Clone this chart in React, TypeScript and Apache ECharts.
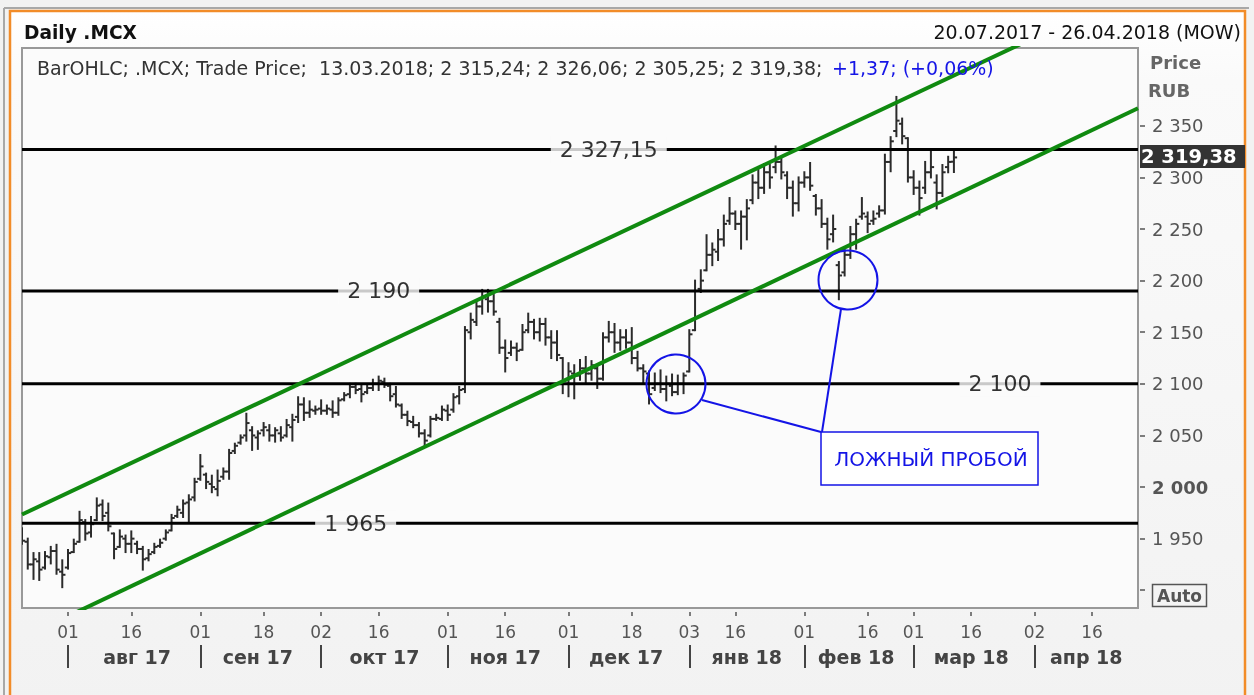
import React, { useEffect, useRef } from "react";
import * as echarts from "echarts";

// Trading days (MOEX) shown on the category axis, 20.07.2017 - 26.04.2018
const monthDays: [string, number[]][] = [
  ["2017-07", [20, 21, 24, 25, 26, 27, 28, 31]],
  ["2017-08", [1, 2, 3, 4, 7, 8, 9, 10, 11, 14, 15, 16, 17, 18, 21, 22, 23, 24, 25, 28, 29, 30, 31]],
  ["2017-09", [1, 4, 5, 6, 7, 8, 11, 12, 13, 14, 15, 18, 19, 20, 21, 22, 25, 26, 27, 28, 29]],
  ["2017-10", [2, 3, 4, 5, 6, 9, 10, 11, 12, 13, 16, 17, 18, 19, 20, 23, 24, 25, 26, 27, 30, 31]],
  ["2017-11", [1, 2, 3, 7, 8, 9, 10, 13, 14, 15, 16, 17, 20, 21, 22, 23, 24, 27, 28, 29, 30]],
  ["2017-12", [1, 4, 5, 6, 7, 8, 11, 12, 13, 14, 15, 18, 19, 20, 21, 22, 25, 26, 27, 28, 29]],
  ["2018-01", [3, 4, 5, 9, 10, 11, 12, 15, 16, 17, 18, 19, 22, 23, 24, 25, 26, 29, 30, 31]],
  ["2018-02", [1, 2, 5, 6, 7, 8, 9, 12, 13, 14, 15, 16, 19, 20, 21, 22, 26, 27, 28]],
  ["2018-03", [1, 2, 5, 6, 7, 9, 12, 13, 14, 15, 16, 19, 20, 21, 22, 23, 26, 27, 28, 29, 30]],
  ["2018-04", [2, 3, 4, 5, 6, 9, 10, 11, 12, 13, 16, 17, 18, 19, 20, 23, 24, 25, 26]],
];
const categories: string[] = monthDays.flatMap(([ym, days]) =>
  days.map((d) => `${ym}-${String(d).padStart(2, "0")}`)
);

const dayTickDates = [
  "2017-08-01", "2017-08-16", "2017-09-01", "2017-09-18", "2017-10-02", "2017-10-16",
  "2017-11-01", "2017-11-16", "2017-12-01", "2017-12-18", "2018-01-03", "2018-01-16",
  "2018-02-01", "2018-02-16", "2018-03-01", "2018-03-16", "2018-04-02", "2018-04-16",
];
const monthStartDates = [
  "2017-08-01", "2017-09-01", "2017-10-02", "2017-11-01", "2017-12-01",
  "2018-01-03", "2018-02-01", "2018-03-01", "2018-04-02",
];
const monthLabelDates = [
  "2017-08-17", "2017-09-15", "2017-10-17", "2017-11-16", "2017-12-15",
  "2018-01-18", "2018-02-14", "2018-03-16", "2018-04-13",
];
const monthLabelTexts = [
  "авг 17", "сен 17", "окт 17", "ноя 17", "дек 17", "янв 18", "фев 18", "мар 18", "апр 18",
];

// OHLC (first bar 20.07.2017 ... last bar 13.03.2018)
const opens = [
  1955, 1947, 1925, 1928, 1922, 1932, 1938, 1918, 1922, 1937,
  1947, 1966, 1956, 1968, 1983, 1975, 1955, 1942, 1950, 1945,
  1945, 1940, 1931, 1937, 1943, 1950, 1958, 1972, 1975, 1985,
  1990, 2008, 2012, 2003, 1998, 2010, 2015, 2035, 2043, 2050,
  2055, 2048, 2055, 2055, 2050, 2052, 2050, 2058, 2068, 2080,
  2072, 2074, 2076, 2074, 2075, 2072, 2085, 2090, 2097, 2095,
  2092, 2096, 2100, 2102, 2098, 2090, 2079, 2070, 2063, 2060,
  2052, 2050, 2066, 2066, 2074, 2075, 2088, 2095, 2150, 2160,
  2175, 2182, 2180, 2160, 2135, 2130, 2135, 2133, 2152, 2160,
  2150, 2158, 2145, 2140, 2125, 2100, 2110, 2108, 2115, 2110,
  2115, 2105, 2145, 2150, 2140, 2145, 2140, 2125, 2115, 2110,
  2096, 2100, 2095, 2098, 2092, 2100, 2112, 2152, 2192, 2210,
  2225, 2228, 2240, 2258, 2265, 2255, 2262, 2278, 2295, 2290,
  2305, 2310, 2315, 2302, 2290, 2275, 2295, 2300, 2282, 2270,
  2255, 2245, 2215, 2208, 2225, 2245, 2262, 2262, 2258, 2265,
  2268, 2315, 2345, 2352, 2338, 2300, 2290, 2290, 2305, 2295,
  2285, 2310, 2315.24,
];
const highs = [
  1960, 1950, 1936, 1936, 1937, 1942, 1944, 1929, 1939, 1949,
  1976, 1968, 1971, 1989, 1987, 1984, 1955, 1958, 1953, 1957,
  1947, 1942, 1939, 1945, 1949, 1958, 1973, 1981, 1987, 1992,
  2008, 2031, 2013, 2011, 2016, 2018, 2036, 2042, 2050, 2071,
  2058, 2054, 2062, 2060, 2057, 2058, 2065, 2070, 2087, 2086,
  2083, 2078, 2084, 2079, 2083, 2086, 2091, 2100, 2100, 2099,
  2099, 2104, 2107, 2105, 2100, 2097, 2080, 2073, 2068, 2062,
  2055, 2068, 2070, 2078, 2079, 2090, 2097, 2155, 2168, 2180,
  2191, 2191, 2186, 2163, 2142, 2141, 2139, 2157, 2168, 2162,
  2163, 2163, 2151, 2151, 2125, 2120, 2118, 2123, 2126, 2122,
  2117, 2149, 2160, 2158, 2152, 2152, 2154, 2131, 2118, 2112,
  2110, 2113, 2107, 2109, 2108, 2110, 2152, 2200, 2210, 2244,
  2236, 2249, 2263, 2280, 2267, 2267, 2278, 2302, 2308, 2313,
  2312, 2330, 2318, 2305, 2296, 2300, 2305, 2314, 2283, 2278,
  2260, 2263, 2218, 2231, 2252, 2259, 2280, 2266, 2267, 2272,
  2322, 2339, 2378, 2357, 2338, 2306, 2296, 2315, 2325, 2302,
  2312, 2320, 2326.06,
];
const lows = [
  1945, 1921, 1911, 1910, 1921, 1926, 1916, 1903, 1921, 1937,
  1947, 1949, 1952, 1968, 1968, 1958, 1931, 1942, 1937, 1937,
  1936, 1920, 1929, 1936, 1942, 1949, 1958, 1971, 1971, 1966,
  1987, 2007, 1999, 1995, 1992, 2008, 2008, 2033, 2042, 2045,
  2036, 2037, 2050, 2045, 2044, 2045, 2049, 2045, 2063, 2065,
  2068, 2071, 2071, 2071, 2068, 2070, 2084, 2087, 2091, 2083,
  2091, 2094, 2094, 2097, 2084, 2078, 2067, 2060, 2058, 2049,
  2040, 2049, 2065, 2065, 2065, 2073, 2081, 2092, 2144, 2157,
  2168, 2170, 2167, 2130, 2112, 2128, 2123, 2133, 2150, 2144,
  2142, 2138, 2125, 2123, 2091, 2088, 2086, 2104, 2100, 2104,
  2096, 2104, 2141, 2131, 2133, 2135, 2120, 2113, 2100, 2081,
  2094, 2092, 2084, 2089, 2090, 2091, 2112, 2152, 2189, 2210,
  2215, 2220, 2234, 2255, 2250, 2231, 2240, 2275, 2280, 2285,
  2290, 2305, 2299, 2280, 2263, 2268, 2291, 2288, 2264, 2252,
  2231, 2238, 2182, 2205, 2222, 2231, 2260, 2247, 2255, 2262,
  2265, 2306, 2340, 2333, 2296, 2284, 2264, 2285, 2300, 2270,
  2282, 2305, 2305.25,
];
const closes = [
  1948, 1925, 1930, 1920, 1933, 1938, 1920, 1915, 1936, 1945,
  1968, 1955, 1964, 1982, 1972, 1962, 1940, 1952, 1945, 1950,
  1940, 1930, 1935, 1942, 1946, 1956, 1970, 1978, 1984, 1988,
  2005, 2020, 2005, 2000, 2006, 2015, 2033, 2040, 2048, 2062,
  2050, 2052, 2058, 2050, 2055, 2048, 2060, 2065, 2080, 2072,
  2075, 2075, 2074, 2076, 2072, 2084, 2089, 2097, 2094, 2090,
  2096, 2100, 2103, 2099, 2088, 2080, 2070, 2064, 2060, 2052,
  2045, 2066, 2067, 2075, 2070, 2087, 2094, 2152, 2162, 2175,
  2185, 2180, 2170, 2135, 2125, 2135, 2132, 2150, 2160, 2150,
  2158, 2145, 2140, 2128, 2100, 2112, 2108, 2115, 2110, 2118,
  2105, 2145, 2150, 2140, 2145, 2140, 2125, 2115, 2112, 2090,
  2100, 2095, 2100, 2092, 2100, 2108, 2148, 2190, 2200, 2225,
  2230, 2240, 2255, 2265, 2255, 2262, 2270, 2295, 2290, 2305,
  2300, 2315, 2305, 2290, 2275, 2295, 2300, 2292, 2270, 2255,
  2240, 2250, 2205, 2225, 2245, 2255, 2265, 2255, 2260, 2268,
  2315, 2335, 2355, 2340, 2300, 2290, 2280, 2305, 2310, 2285,
  2305, 2315, 2319.38,
];

// Horizontal levels and their labels
const levelValues = [2327.15, 2190, 2100, 1965];
const levelLabels = ["2 327,15", "2 190", "2 100", "1 965"];
const levelLabelDates = ["2017-12-12", "2017-10-16", "2018-03-23", "2017-10-10"];

// Trend channel (start / end value at first / last category)
const upperChannel: [string, number][] = [["2017-07-20", 1973.4], ["2018-04-26", 2482.8]];
const lowerChannel: [string, number][] = [["2017-07-20", 1853.7], ["2018-04-26", 2367.0]];

// Value axis
const yMin = 1882.8;
const yMax = 2425.4;
const yTicks = [1900, 1950, 2000, 2050, 2100, 2150, 2200, 2250, 2300, 2350];
const yLabels = [1950, 2000, 2050, 2100, 2150, 2200, 2250, 2300, 2350];

const FONT = "DejaVu Sans";

function fmtThousands(v: number): string {
  const s = String(Math.round(v));
  return s.replace(/\B(?=(\d{3})+(?!\d))/g, " ");
}

export default function App() {
  const ref = useRef<HTMLDivElement>(null);

  useEffect(() => {
    if (!ref.current) return;
    document.body.style.margin = "0";
    const chart = echarts.init(ref.current, undefined, { renderer: "svg" });

    const idxOf = (d: string) => categories.indexOf(d);
    const dayTickSet = new Set(dayTickDates.map(idxOf));
    const monthStartSet = new Set(monthStartDates.map(idxOf));
    const monthLabelMap = new Map<number, string>();
    monthLabelDates.forEach((d, i) => monthLabelMap.set(idxOf(d), monthLabelTexts[i]));

    const ohlcData = opens.map((o, i) => [i, o, highs[i], lows[i], closes[i]]);

    const levelSeries = levelValues.map((v) => ({
      type: "line",
      data: [
        [0, v],
        [categories.length - 1, v],
      ],
      symbol: "none",
      lineStyle: { color: "#000", width: 3 },
      silent: true,
      z: 3,
    }));

    const channelSeries = [upperChannel, lowerChannel].map((pts) => ({
      type: "line",
      data: pts.map(([d, v]) => [idxOf(d), v]),
      symbol: "none",
      clip: true,
      lineStyle: { color: "#108a10", width: 4 },
      silent: true,
      z: 4,
    }));

    const labelSeries = {
      type: "scatter",
      data: levelValues.map((v, i) => [idxOf(levelLabelDates[i]), v, levelLabels[i]]),
      symbolSize: 1,
      itemStyle: { color: "rgba(0,0,0,0)" },
      silent: true,
      z: 10,
      label: {
        show: true,
        position: "inside",
        formatter: (p: any) => p.value[2],
        fontFamily: FONT,
        fontSize: 22,
        color: "#000",
        backgroundColor: "#fbfbfb",
        padding: [2, 9, 2, 9],
      },
    };

    const option: any = {
      animation: false,
      backgroundColor: "transparent",
      textStyle: { fontFamily: FONT },
      grid: {
        left: 22,
        top: 48,
        width: 1116,
        height: 560,
        show: true,
        backgroundColor: "#fbfbfb",
        borderColor: "#999",
        borderWidth: 2,
        containLabel: false,
      },
      xAxis: [
        {
          type: "category",
          data: categories,
          boundaryGap: false,
          position: "bottom",
          offset: 4,
          axisLine: { show: false },
          axisTick: {
            show: true,
            interval: (i: number) => dayTickSet.has(i),
            length: 4,
            lineStyle: { color: "#555", width: 1.5 },
          },
          axisLabel: {
            interval: (i: number) => dayTickSet.has(i),
            formatter: (v: string) => v.slice(8, 10),
            fontFamily: FONT,
            fontSize: 17,
            color: "#555",
            margin: 11,
          },
          splitLine: { show: false },
        },
        {
          type: "category",
          data: categories,
          boundaryGap: false,
          position: "bottom",
          offset: 37,
          axisLine: { show: false },
          axisTick: {
            show: true,
            interval: (i: number) => monthStartSet.has(i),
            length: 23,
            lineStyle: { color: "#444", width: 2 },
          },
          axisLabel: {
            interval: (i: number) => monthLabelMap.has(i),
            formatter: (_v: string, i: number) => monthLabelMap.get(i) || "",
            fontFamily: FONT,
            fontSize: 19,
            fontWeight: "bold",
            color: "#444",
            margin: 2,
          },
          splitLine: { show: false },
        },
      ],
      yAxis: {
        type: "value",
        position: "right",
        min: yMin,
        max: yMax,
        offset: 2,
        axisLine: { show: false },
        splitLine: { show: false },
        axisTick: {
          show: true,
          length: 5,
          customValues: yTicks,
          lineStyle: { color: "#555", width: 1.5 },
        },
        axisLabel: {
          customValues: yLabels,
          margin: 12,
          fontFamily: FONT,
          fontSize: 18,
          color: "#555",
          formatter: (v: number) =>
            v === 2000 ? `{b|${fmtThousands(v)}}` : fmtThousands(v),
          rich: {
            b: { fontFamily: FONT, fontSize: 18, fontWeight: "bold", color: "#555" },
          },
        },
      },
      series: [
        {
          type: "custom",
          data: ohlcData,
          encode: { x: 0, y: [1, 2, 3, 4] },
          clip: true,
          z: 2,
          silent: true,
          renderItem: (_params: any, api: any) => {
            const x = api.value(0);
            const pO = api.coord([x, api.value(1)]);
            const pH = api.coord([x, api.value(2)]);
            const pL = api.coord([x, api.value(3)]);
            const pC = api.coord([x, api.value(4)]);
            const st = { stroke: "#2b2b2b", lineWidth: 2 };
            const w = 3.2;
            return {
              type: "group",
              children: [
                { type: "line", shape: { x1: pH[0], y1: pH[1] - 1, x2: pL[0], y2: pL[1] + 1 }, style: st },
                { type: "line", shape: { x1: pO[0] - w, y1: pO[1], x2: pO[0], y2: pO[1] }, style: st },
                { type: "line", shape: { x1: pC[0], y1: pC[1], x2: pC[0] + w, y2: pC[1] }, style: st },
              ],
            };
          },
        },
        ...levelSeries,
        ...channelSeries,
        labelSeries,
      ],
      graphic: [
        // page background and frame
        { type: "rect", z: -10, shape: { x: 0, y: 0, width: 1254, height: 695 }, style: { fill: "#f2f2f2" } },
        {
          type: "rect",
          z: -9,
          shape: { x: 10, y: 10, width: 1235, height: 700 },
          style: {
            fill: new echarts.graphic.LinearGradient(0, 0, 0, 1, [
              { offset: 0, color: "#ffffff" },
              { offset: 0.1, color: "#fafafa" },
              { offset: 1, color: "#f2f2f2" },
            ]),
          },
        },
        { type: "line", z: -8, shape: { x1: 4, y1: 8, x2: 1249, y2: 8 }, style: { stroke: "#a8a8a8", lineWidth: 2 } },
        { type: "line", z: -8, shape: { x1: 4, y1: 8, x2: 4, y2: 695 }, style: { stroke: "#a8a8a8", lineWidth: 2 } },
        {
          type: "rect",
          z: -8,
          shape: { x: 10, y: 11, width: 1235, height: 700 },
          style: { fill: "none", stroke: "#f28c28", lineWidth: 2.5 },
        },
        // header
        {
          type: "text",
          z: 50,
          x: 24,
          y: 32,
          style: { text: "Daily .MCX", font: `bold 18.6px "${FONT}"`, fill: "#111", verticalAlign: "middle" },
        },
        {
          type: "text",
          z: 50,
          x: 1241,
          y: 32,
          style: {
            text: "20.07.2017 - 26.04.2018 (MOW)",
            font: `19px "${FONT}"`,
            fill: "#111",
            align: "right",
            verticalAlign: "middle",
          },
        },
        {
          type: "text",
          z: 50,
          x: 37,
          y: 68,
          style: {
            text: "BarOHLC; .MCX; Trade Price;  13.03.2018; 2 315,24; 2 326,06; 2 305,25; 2 319,38;",
            font: `19px "${FONT}"`,
            fill: "#333",
            verticalAlign: "middle",
          },
        },
        {
          type: "text",
          z: 50,
          x: 832,
          y: 68,
          style: { text: "+1,37; (+0,06%)", font: `19px "${FONT}"`, fill: "#1515e6", verticalAlign: "middle" },
        },
        // axis title
        {
          type: "text",
          z: 50,
          x: 1150,
          y: 62,
          style: { text: "Price", font: `bold 18px "${FONT}"`, fill: "#666", verticalAlign: "middle" },
        },
        {
          type: "text",
          z: 50,
          x: 1148,
          y: 90,
          style: { text: "RUB", font: `bold 18px "${FONT}"`, fill: "#666", verticalAlign: "middle" },
        },
        // last price box
        { type: "rect", z: 50, shape: { x: 1140, y: 145, width: 105, height: 23 }, style: { fill: "#333" } },
        {
          type: "text",
          z: 51,
          x: 1141,
          y: 156.5,
          style: { text: "2 319,38", font: `bold 19.5px "${FONT}"`, fill: "#fff", verticalAlign: "middle" },
        },
        // Auto box
        {
          type: "rect",
          z: 50,
          shape: { x: 1152.5, y: 584.5, width: 54, height: 22 },
          style: { fill: "#f4f4f4", stroke: "#555", lineWidth: 1.5 },
        },
        {
          type: "text",
          z: 51,
          x: 1179.5,
          y: 596,
          style: { text: "Auto", font: `bold 17px "${FONT}"`, fill: "#555", align: "center", verticalAlign: "middle" },
        },
        // annotations
        { type: "circle", z: 60, shape: { cx: 676, cy: 384, r: 29.5 }, style: { fill: "none", stroke: "#1414e6", lineWidth: 2 } },
        { type: "circle", z: 60, shape: { cx: 848, cy: 280, r: 29.5 }, style: { fill: "none", stroke: "#1414e6", lineWidth: 2 } },
        { type: "line", z: 60, shape: { x1: 702, y1: 400, x2: 821, y2: 432 }, style: { stroke: "#1414e6", lineWidth: 2 } },
        { type: "line", z: 60, shape: { x1: 841, y1: 309, x2: 822, y2: 432 }, style: { stroke: "#1414e6", lineWidth: 2 } },
        {
          type: "rect",
          z: 60,
          shape: { x: 821, y: 432, width: 217, height: 53 },
          style: { fill: "#ffffff", stroke: "#1414e6", lineWidth: 1.5 },
        },
        {
          type: "text",
          z: 61,
          x: 931,
          y: 458.5,
          style: {
            text: "ЛОЖНЫЙ ПРОБОЙ",
            font: `20px "${FONT}"`,
            fill: "#1414e6",
            align: "center",
            verticalAlign: "middle",
          },
        },
      ],
    };

    chart.setOption(option);
    return () => chart.dispose();
  }, []);

  return (
    <div
      ref={ref}
      style={{ position: "fixed", left: 0, top: 0, width: 1254, height: 695 }}
    />
  );
}
